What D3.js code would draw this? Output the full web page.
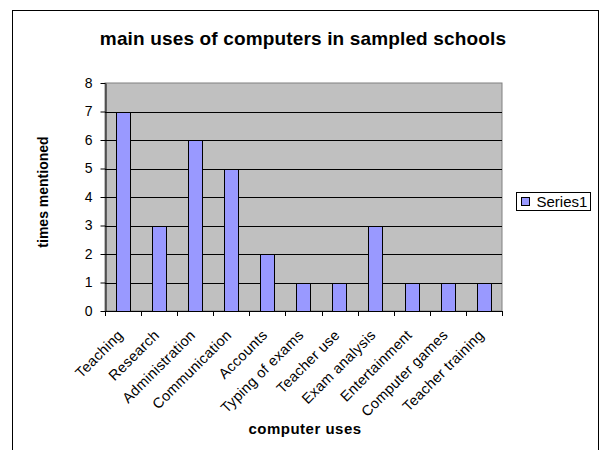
<!DOCTYPE html>
<html>
<head>
<meta charset="utf-8">
<script src="https://cdn.jsdelivr.net/npm/d3@7"></script>
<style>
  body { margin: 0; background: #fff; }
  svg text { font-family: Arial, "Liberation Sans", sans-serif; fill: #000; }
</style>
</head>
<body>
<script>
const categories = ["Teaching", "Research", "Administration", "Communication", "Accounts",
    "Typing of exams", "Teacher use", "Exam analysis", "Entertainment", "Computer games", "Teacher training"];
const values = [7, 3, 6, 5, 2, 1, 1, 3, 1, 1, 1];
const yTicks = [0, 1, 2, 3, 4, 5, 6, 7, 8];
const seriesName = "Series1";

const width = 605, height = 450;
const plot = { left: 105, top: 83, right: 502, bottom: 311 };

const svg = d3.select("body").append("svg")
    .attr("width", width)
    .attr("height", height);

// chart frame
svg.append("rect")
    .attr("x", 12.5).attr("y", 10.5)
    .attr("width", 586).attr("height", 460)
    .attr("fill", "#fff")
    .attr("stroke", "#000")
    .attr("stroke-width", 1);

const x = d3.scaleBand()
    .domain(categories)
    .range([plot.left, plot.right])
    .paddingInner(0.6)
    .paddingOuter(0.3);

const y = d3.scaleLinear()
    .domain([0, 8])
    .range([plot.bottom, plot.top]);

// plot area
svg.append("rect")
    .attr("x", plot.left).attr("y", plot.top)
    .attr("width", plot.right - plot.left).attr("height", plot.bottom - plot.top)
    .attr("fill", "#c0c0c0")
    .attr("stroke", "#808080");

// gridlines
svg.append("g")
    .selectAll("line")
    .data(yTicks.filter(d => d > 0 && d < 8))
    .enter()
    .append("line")
    .attr("x1", plot.left).attr("x2", plot.right)
    .attr("y1", d => Math.round(y(d)) + 0.5)
    .attr("y2", d => Math.round(y(d)) + 0.5)
    .attr("stroke", "#000");

// bars
svg.append("g")
    .selectAll("rect")
    .data(values)
    .enter()
    .append("rect")
    .attr("x", (d, i) => Math.round(x(categories[i])) + 0.5)
    .attr("y", d => Math.round(y(d)) + 0.5)
    .attr("width", Math.round(x.bandwidth()))
    .attr("height", d => Math.round(y(0)) - Math.round(y(d)))
    .attr("fill", "#9999ff")
    .attr("stroke", "#000");

// y axis
const yAxis = svg.append("g")
    .attr("transform", `translate(${plot.left + 0.5},0)`)
    .call(d3.axisLeft(y).tickValues(yTicks).tickSize(5).tickPadding(8).tickSizeOuter(0));
yAxis.select(".domain").attr("stroke", "#000");
yAxis.selectAll("text").attr("font-size", 14).attr("fill", "#000")
    .style("font-family", "Arial, 'Liberation Sans', sans-serif");

// x axis: ticks at category boundaries
const boundaries = d3.range(categories.length + 1).map(i => plot.left + i * (plot.right - plot.left) / categories.length);
const xAxis = svg.append("g");
xAxis.append("line")
    .attr("x1", plot.left).attr("x2", plot.right)
    .attr("y1", plot.bottom + 0.5).attr("y2", plot.bottom + 0.5)
    .attr("stroke", "#000");
xAxis.selectAll("line.tick")
    .data(boundaries)
    .enter()
    .append("line")
    .classed("tick", true)
    .attr("x1", d => Math.round(d) + 0.5).attr("x2", d => Math.round(d) + 0.5)
    .attr("y1", plot.bottom).attr("y2", plot.bottom + 5)
    .attr("stroke", "#000");
xAxis.selectAll("text")
    .data(categories)
    .enter()
    .append("text")
    .attr("text-anchor", "end")
    .attr("font-size", 14.5)
    .attr("letter-spacing", 0.3)
    .attr("transform", d => `translate(${x(d) + x.bandwidth() / 2 + 1},${plot.bottom + 25}) rotate(-45)`)
    .text(d => d);

// titles
svg.append("text")
    .attr("x", 303).attr("y", 45)
    .attr("text-anchor", "middle")
    .attr("font-size", 19)
    .attr("letter-spacing", 0.15)
    .attr("font-weight", "bold")
    .text("main uses of computers in sampled schools");

svg.append("text")
    .attr("x", 305).attr("y", 434)
    .attr("text-anchor", "middle")
    .attr("font-size", 15)
    .attr("letter-spacing", 0.5)
    .attr("font-weight", "bold")
    .text("computer uses");

svg.append("text")
    .attr("transform", `translate(48,192) rotate(-90)`)
    .attr("text-anchor", "middle")
    .attr("font-size", 14)
    .attr("font-weight", "bold")
    .text("times mentioned");

// legend
const legend = svg.append("g").attr("transform", "translate(516.5,192.5)");
legend.append("rect")
    .attr("width", 74).attr("height", 18)
    .attr("fill", "#fff").attr("stroke", "#000");
legend.append("rect")
    .attr("x", 5).attr("y", 5).attr("width", 8).attr("height", 8)
    .attr("fill", "#9999ff").attr("stroke", "#000");
legend.append("text")
    .attr("x", 20).attr("y", 14)
    .attr("font-size", 15)
    .text(seriesName);
</script>
</body>
</html>
